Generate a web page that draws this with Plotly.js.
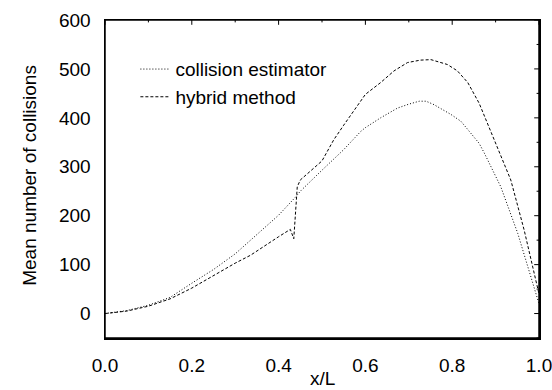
<!DOCTYPE html>
<html><head><meta charset="utf-8">
<script src="https://cdn.plot.ly/plotly-3.0.1.min.js"></script>
<style>html,body{margin:0;padding:0;background:#fff}#c{width:552px;height:390px}</style>
</head><body><div id="c"></div>
<script>
var collisionX = [0, 0.05, 0.1, 0.15, 0.2, 0.25, 0.3, 0.335, 0.35, 0.4, 0.44, 0.45, 0.5, 0.55, 0.589, 0.6, 0.635, 0.674, 0.7, 0.724, 0.74, 0.758, 0.797, 0.82, 0.836, 0.862, 0.874, 0.9, 0.912, 0.951, 0.985, 1.0];
var collisionY = [0, 6, 17, 33, 62, 90, 122, 150, 163, 201, 239, 250, 293, 335, 372, 380, 400, 420, 428, 434, 434, 427, 407, 393, 376, 348, 328, 283, 259, 164, 61, 20];
var hybridX = [0, 0.05, 0.1, 0.15, 0.2, 0.25, 0.3, 0.335, 0.35, 0.4, 0.427, 0.435, 0.443, 0.45, 0.5, 0.527, 0.55, 0.589, 0.6, 0.635, 0.666, 0.697, 0.727, 0.751, 0.789, 0.812, 0.836, 0.862, 0.897, 0.935, 0.966, 0.993, 1.0];
var hybridY = [0, 5, 15, 30, 52, 78, 103, 119, 128, 157, 172, 153, 259, 273, 312, 355, 385, 435, 448, 472, 496, 513, 518, 519, 509, 496, 472, 430, 355, 273, 170, 68, 40];
var xRange = [0, 1];
var yRange = [-50, 600];
var xTicks = [0, 0.2, 0.4, 0.6, 0.8, 1.0];
var xTickText = ['0.0', '0.2', '0.4', '0.6', '0.8', '1.0'];
var xMinor = [0.1, 0.3, 0.5, 0.7, 0.9];
var yTicks = [0, 100, 200, 300, 400, 500, 600];
var yMinor = [-50, 50, 150, 250, 350, 450, 550];

var FAM = 'Liberation Sans, Arial, sans-serif';
var TF = {family: FAM, size: 19, color: '#000'};
var LF = {family: FAM, size: 19, color: '#000'};

var W = 552, H = 390, M = {l: 105, r: 13, t: 20, b: 52};
var uX = (xRange[1] - xRange[0]) / (W - M.l - M.r);
var uY = (yRange[1] - yRange[0]) / (H - M.t - M.b);

var traces = [
  {x: collisionX, y: collisionY, mode: 'lines', name: 'collision estimator',
   line: {color: '#000', width: 1, dash: '1px,2px'}},
  {x: hybridX, y: hybridY, mode: 'lines', name: 'hybrid method',
   line: {color: '#000', width: 1, dash: '3px,2px'}}
];

traces.push({x: [xRange[0], xRange[1], xRange[1], xRange[0], xRange[0]],
  y: [yRange[0], yRange[0], yRange[1], yRange[1], yRange[0]],
  mode: 'lines', line: {color: '#000', width: 1.5}, showlegend: false, cliponaxis: false, hoverinfo: 'skip'});

function rep(v, n) { return n.map(function(){ return v; }); }
function tickTrace(xs, ys, sym, size) {
  traces.push({x: xs, y: ys, mode: 'markers', showlegend: false, cliponaxis: false, hoverinfo: 'skip',
    marker: {symbol: sym, size: size, color: '#000', line: {color: '#000', width: 1}}});
}
tickTrace(xTicks, rep(yRange[0] - 3 * uY, xTicks), 'line-ns', 6);
tickTrace(xMinor, rep(yRange[0] - 1.5 * uY, xMinor), 'line-ns', 3);
tickTrace(xTicks, rep(yRange[1] - 2 * uY, xTicks), 'line-ns', 4);
tickTrace(xMinor, rep(yRange[1] - 1 * uY, xMinor), 'line-ns', 2);
tickTrace(rep(xRange[0] - 3 * uX, yTicks), yTicks, 'line-ew', 6);
tickTrace(rep(xRange[0] - 1.5 * uX, yMinor), yMinor, 'line-ew', 3);
tickTrace(rep(xRange[1] - 2 * uX, yTicks), yTicks, 'line-ew', 4);
tickTrace(rep(xRange[1] - 1 * uX, yMinor), yMinor, 'line-ew', 2);

var layout = {
  width: W, height: H,
  margin: M,
  paper_bgcolor: '#fff', plot_bgcolor: '#fff',
  font: TF,
  showlegend: true,
  legend: {x: 0.07, y: 0.905, xanchor: 'left', yanchor: 'top', bgcolor: 'rgba(0,0,0,0)', font: LF, tracegroupgap: 0},
  xaxis: {range: xRange, tickmode: 'array', tickvals: xTicks, ticktext: xTickText,
          ticks: 'outside', ticklen: 10, tickcolor: 'rgba(0,0,0,0)', ticklabeloverflow: 'allow',
          showline: true, linewidth: 1.5, linecolor: '#000', mirror: true,
          showgrid: false, zeroline: false, tickfont: TF},
  yaxis: {range: yRange, tickmode: 'array', tickvals: yTicks,
          ticks: 'outside', ticklen: 9, tickcolor: 'rgba(0,0,0,0)', ticklabeloverflow: 'allow',
          showline: true, linewidth: 1.5, linecolor: '#000', mirror: true,
          showgrid: false, zeroline: false, tickfont: TF},
  annotations: [
    {text: 'x/L', xref: 'paper', yref: 'paper', x: 0.5, y: -0.128, xanchor: 'center', yanchor: 'middle',
     showarrow: false, font: TF},
    {text: 'Mean number of collisions', xref: 'paper', yref: 'paper', x: -0.173, y: 0.513, textangle: -90,
     xanchor: 'center', yanchor: 'middle', showarrow: false, font: TF}
  ]
};
Plotly.newPlot('c', traces, layout, {staticPlot: true});
</script></body></html>
